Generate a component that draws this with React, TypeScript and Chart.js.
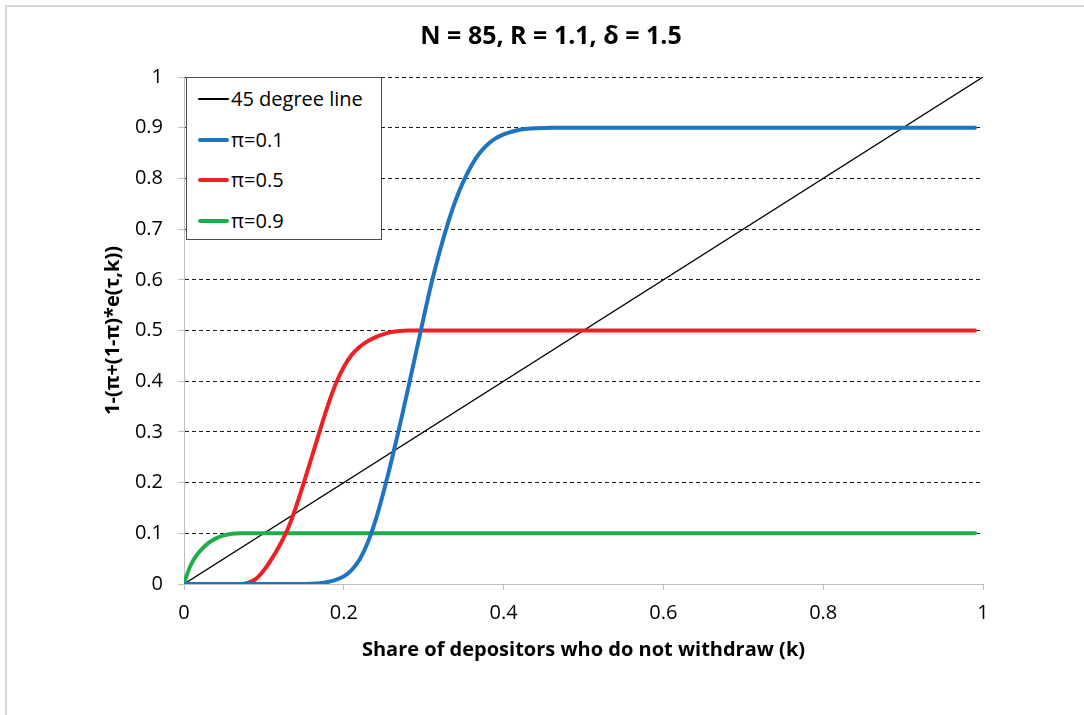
import React, { useEffect, useRef } from "react";
import { Chart, registerables } from "chart.js";

Chart.register(...registerables);

const chartTitle = "N = 85, R = 1.1, δ = 1.5";
const xAxisTitle = "Share of depositors who do not withdraw (k)";
const yAxisTitle = "1-(π+(1-π)*e(τ,k))";

const seriesLabels = ["45 degree line", "π=0.1", "π=0.5", "π=0.9"];
const seriesColors = ["#000000", "#1f74c0", "#ee1f25", "#1fae4b"];

const kLine = [0, 1];
const vLine = [0, 1];

const kBlue = [0, 0.15, 0.16, 0.17, 0.18, 0.19, 0.2, 0.21, 0.22, 0.23, 0.24, 0.25, 0.26, 0.27, 0.28, 0.29, 0.3, 0.31, 0.32, 0.33, 0.34, 0.35, 0.36, 0.37, 0.38, 0.39, 0.4, 0.41, 0.42, 0.43, 0.44, 0.46, 0.99];
const vBlue = [0, 0, 0.0003, 0.0015, 0.004, 0.008, 0.015, 0.028, 0.049, 0.082, 0.127, 0.183, 0.245, 0.312, 0.382, 0.454, 0.526, 0.595, 0.656, 0.71, 0.757, 0.795, 0.826, 0.85, 0.867, 0.879, 0.887, 0.892, 0.896, 0.898, 0.899, 0.9, 0.9];

const kRed = [0, 0.07, 0.08, 0.09, 0.1, 0.11, 0.12, 0.13, 0.14, 0.15, 0.16, 0.17, 0.18, 0.19, 0.2, 0.21, 0.22, 0.23, 0.24, 0.25, 0.26, 0.27, 0.28, 0.3, 0.99];
const vRed = [0, 0, 0.002, 0.01, 0.027, 0.05, 0.077, 0.109, 0.151, 0.2, 0.251, 0.302, 0.352, 0.395, 0.428, 0.452, 0.468, 0.479, 0.487, 0.493, 0.497, 0.499, 0.5, 0.5, 0.5];

const kGreen = [0, 0.005, 0.01, 0.015, 0.02, 0.03, 0.04, 0.05, 0.06, 0.07, 0.08, 0.99];
const vGreen = [0, 0.024, 0.042, 0.055, 0.065, 0.08, 0.09, 0.096, 0.099, 0.1, 0.1, 0.1];

const xTickValues = [0, 0.2, 0.4, 0.6, 0.8, 1];
const yTickValues = [0, 0.1, 0.2, 0.3, 0.4, 0.5, 0.6, 0.7, 0.8, 0.9, 1];

const FONT = "'Open Sans', 'Noto Sans', sans-serif";

const seriesK = [kLine, kBlue, kRed, kGreen];
const seriesV = [vLine, vBlue, vRed, vGreen];
const seriesWidths = [1.3, 4, 4, 4];
const seriesOrder = [4, 1, 2, 3];

const fmt = (v: number) => String(Math.round(v * 10) / 10);

const textPlugin = {
  id: "textPlugin",
  afterDraw(chart: any) {
    const ctx = chart.ctx as CanvasRenderingContext2D;
    const a = chart.chartArea;
    ctx.save();
    ctx.fillStyle = "#000";
    ctx.textAlign = "center";
    ctx.textBaseline = "middle";
    ctx.font = `bold 25px ${FONT}`;
    ctx.fillText(chartTitle, 551, 37);
    ctx.font = `bold 20px ${FONT}`;
    ctx.fillText(xAxisTitle, (a.left + a.right) / 2, 650);
    ctx.translate(113, (a.top + a.bottom) / 2);
    ctx.rotate(-Math.PI / 2);
    ctx.fillText(yAxisTitle, 0, 0);
    ctx.restore();
  },
};

export default function App() {
  const ref = useRef<HTMLCanvasElement | null>(null);

  useEffect(() => {
    if (!ref.current) return;
    const datasets = seriesLabels.map((label, i) => ({
      label,
      data: seriesK[i].map((k, j) => ({ x: k, y: seriesV[i][j] })),
      borderColor: seriesColors[i],
      backgroundColor: seriesColors[i],
      borderWidth: seriesWidths[i],
      pointRadius: 0,
      fill: false,
      order: seriesOrder[i],
      cubicInterpolationMode: i === 0 ? "default" : "monotone",
      borderCapStyle: "round",
      borderJoinStyle: "round",
    }));
    const chart = new Chart(ref.current, {
      type: "line",
      data: { datasets } as any,
      plugins: [textPlugin],
      options: {
        animation: false,
        responsive: false,
        devicePixelRatio: 1,
        events: [],
        layout: { padding: { top: 77, right: 101, left: 0, bottom: 0 } },
        plugins: { legend: { display: false }, tooltip: { enabled: false }, title: { display: false } },
        scales: {
          x: {
            type: "linear",
            min: 0,
            max: 1,
            afterFit: (s: any) => {
              s.height = 131;
            },
            afterBuildTicks: (s: any) => {
              s.ticks = xTickValues.map((v) => ({ value: v }));
            },
            ticks: {
              maxRotation: 0,
              autoSkip: false,
              padding: 11,
              color: "#000",
              font: { family: FONT, size: 20 },
              callback: (v: any) => fmt(Number(v)),
            },
            grid: { drawOnChartArea: false, color: "#bfbfbf", tickLength: 6, tickColor: "#bfbfbf" },
            border: { display: true, color: "#bfbfbf", width: 1 },
          },
          y: {
            type: "linear",
            min: 0,
            max: 1,
            afterFit: (s: any) => {
              s.width = 184;
            },
            afterBuildTicks: (s: any) => {
              s.ticks = yTickValues.map((v) => ({ value: v }));
            },
            ticks: {
              autoSkip: false,
              padding: 15,
              color: "#000",
              font: { family: FONT, size: 20 },
              callback: (v: any) => fmt(Number(v)),
            },
            grid: {
              color: (c: any) => (c.tick && c.tick.value === 0 ? "rgba(0,0,0,0)" : "#1a1a1a"),
              tickColor: "#bfbfbf",
              tickLength: 6,
              lineWidth: 1,
            },
            border: { display: true, color: "#bfbfbf", width: 1, dash: [4, 3] },
          },
        },
      } as any,
    });
    return () => chart.destroy();
  }, []);

  return (
    <div style={{ position: "absolute", left: 0, top: 0, width: 1084, height: 715, background: "#fff", overflow: "hidden" }}>
      <div
        style={{
          position: "absolute",
          left: 5,
          top: 5,
          width: 1100,
          height: 720,
          borderTop: "2px solid #d9d9d9",
          borderLeft: "2px solid #d9d9d9",
        }}
      />
      <canvas ref={ref} width={1084} height={715} style={{ position: "absolute", left: 0, top: 0 }} />
      <div
        style={{
          position: "absolute",
          left: 186,
          top: 77,
          width: 194,
          height: 161,
          border: "1px solid #4d4d4d",
          background: "#fff",
          fontFamily: FONT,
          fontSize: 20,
          color: "#000",
        }}
      >
        {seriesLabels.map((label, i) => (
          <div
            key={label}
            style={{ position: "absolute", left: 11, top: 8 + i * 40.7, height: 26, display: "flex", alignItems: "center" }}
          >
            <div style={{ width: 31, height: seriesWidths[i] === 4 ? 4 : 1.3, background: seriesColors[i], borderRadius: 2 }} />
            <span style={{ marginLeft: 2, lineHeight: "26px" }}>{label}</span>
          </div>
        ))}
      </div>
    </div>
  );
}
